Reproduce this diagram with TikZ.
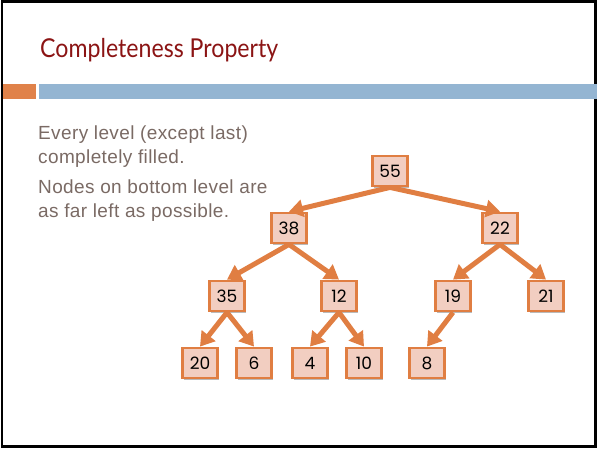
\documentclass[tikz,border=0pt]{standalone}
\usepackage{fontspec}
\setmainfont{Liberation Sans}[LetterSpace=2]
\newfontfamily\headfont{Lato}[FakeStretch=0.89]
\newfontfamily\digitfont{Poppins}
\usetikzlibrary{arrows.meta,shadows}

\definecolor{titlered}{HTML}{8B1414}
\definecolor{bodygray}{HTML}{7A6A64}
\definecolor{accentorange}{HTML}{E0824A}
\definecolor{accentblue}{HTML}{94B5D2}
\definecolor{boxfill}{HTML}{F2CEC1}
\definecolor{edgeorange}{HTML}{E07E42}

\tikzset{
  heapnode/.style={draw=edgeorange, line width=2.8pt, fill=boxfill,
    minimum width=35pt, minimum height=30pt, inner sep=0pt,
    font=\digitfont\fontsize{17}{17}\selectfont, text=black,
    drop shadow={shadow xshift=1.5pt, shadow yshift=-1.5pt, opacity=0.45, fill=black!60}},
  heapedge/.style={draw=edgeorange, line width=5pt,
    -{Triangle[width=17pt,length=14pt]}},
  bodytext/.style={anchor=base west, text=bodygray, inner sep=0pt,
    font=\fontsize{19}{19}\selectfont}
}

\begin{document}
\begin{tikzpicture}[x=1pt,y=-1pt]
  \useasboundingbox (0,0) rectangle (597,448);

  % slide frame
  \draw[line width=2.5pt, black] (2,1.5) rectangle (595.5,446.5);

  % title
  \node[anchor=base west, inner sep=0pt, text=titlered,
        font=\headfont\fontsize{26}{26}\selectfont] (title) at (40,57) {Completeness Property};

  % accent bars under the title
  \fill[accentorange] (3,84) rectangle (36,99);
  \fill[accentblue] (39,84) rectangle (597,99);

  % bullet text
  \node[bodytext] (l1) at (38,139) {Every level (except last)};
  \node[bodytext] (l2) at (38,163) {completely filled.};
  \node[bodytext] (l3) at (38,193) {Nodes on bottom level are};
  \node[bodytext] (l4) at (38,217) {as far left as possible.};

  % heap nodes
  \node[heapnode] (n55) at (390,171) {55};
  \node[heapnode] (n38) at (289,228) {38};
  \node[heapnode] (n22) at (500,228) {22};
  \node[heapnode] (n35) at (227,296) {35};
  \node[heapnode] (n12) at (339,296) {12};
  \node[heapnode] (n19) at (453,296) {19};
  \node[heapnode] (n21) at (546,296) {21};
  \node[heapnode] (n20) at (200,363) {20};
  \node[heapnode] (n6)  at (254,363) {6};
  \node[heapnode] (n4)  at (310,363) {4};
  \node[heapnode] (n10) at (364,363) {10};
  \node[heapnode] (n8)  at (427,363) {8};

  % parent-to-child edges
  \draw[heapedge] (n55.south) -- (n38.north);
  \draw[heapedge] (n55.south) -- (n22.north);
  \draw[heapedge] (n38.south) -- (n35.north);
  \draw[heapedge] (n38.south) -- (n12.north);
  \draw[heapedge] (n22.south) -- (n19.north);
  \draw[heapedge] (n22.south) -- (n21.north);
  \draw[heapedge] (n35.south) -- (n20.north);
  \draw[heapedge] (n35.south) -- (n6.north);
  \draw[heapedge] (n12.south) -- (n4.north);
  \draw[heapedge] (n12.south) -- (n10.north);
  \draw[heapedge] (n19.south) -- (n8.north);
\end{tikzpicture}
\end{document}
